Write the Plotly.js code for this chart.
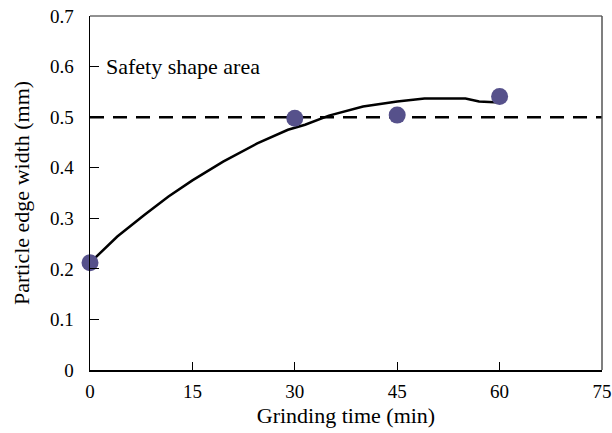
<!DOCTYPE html>
<html>
<head>
<meta charset="utf-8">
<script src="https://cdn.plot.ly/plotly-3.0.1.min.js"></script>
<style>html,body{margin:0;padding:0;background:#fff;}#chart{width:612px;height:433px;}</style>
</head>
<body>
<div id="chart"></div>
<script>
// Measured points
var pointTime = [0, 30, 45, 60];
var pointWidth = [0.212, 0.498, 0.504, 0.541];
// Fitted curve
var curveTime = [0, 4, 8, 11.5, 15, 19.5, 24.5, 29, 31.5, 35, 40, 45, 49, 52, 55, 57, 60];
var curveWidth = [0.212, 0.264, 0.307, 0.343, 0.375, 0.412, 0.448, 0.475, 0.485, 0.503, 0.521, 0.531, 0.537, 0.537, 0.537, 0.531, 0.529];
// Safety threshold line
var thresholdTime = [0, 75];
var thresholdWidth = [0.5, 0.5];
var xTicks = [0, 15, 30, 45, 60, 75];
var yTicks = [0, 0.1, 0.2, 0.3, 0.4, 0.5, 0.6, 0.7];
var yTickText = ['0', '0.1', '0.2', '0.3', '0.4', '0.5', '0.6', '0.7'];
var annotationText = 'Safety shape area';

var tickFont = {family: 'Liberation Serif', size: 19, color: '#000'};
var titleFont = {family: 'Liberation Serif', size: 22, color: '#000'};

var data = [
  {x: thresholdTime, y: thresholdWidth, mode: 'lines', line: {color: '#000', width: 2.5, dash: '14px,9px'}, hoverinfo: 'skip', cliponaxis: false},
  {x: curveTime, y: curveWidth, mode: 'lines', line: {color: '#000', width: 2.5}},
  {x: pointTime, y: pointWidth, mode: 'markers', marker: {color: '#56518b', size: 17}, cliponaxis: false}
];

var layout = {
  width: 612, height: 433,
  margin: {l: 90, r: 10, t: 16, b: 63},
  paper_bgcolor: '#fff', plot_bgcolor: '#fff',
  showlegend: false,
  font: tickFont,
  xaxis: {
    range: [0, 75], tickvals: xTicks, ticks: 'inside', ticklen: 8, tickwidth: 1.2, tickcolor: '#000',
    showgrid: false, zeroline: false, showline: true, linecolor: '#000', linewidth: 1.5,
    ticklabelstandoff: 4,
    title: {text: 'Grinding time (min)', font: titleFont, standoff: 6},
    tickfont: tickFont
  },
  yaxis: {
    range: [0, 0.7], tickvals: yTicks, ticktext: yTickText, ticks: 'inside', ticklen: 9, tickwidth: 1.2, tickcolor: '#000',
    showgrid: false, zeroline: false, showline: true, linecolor: '#000', linewidth: 1.5,
    ticklabelstandoff: 11,
    title: {text: 'Particle edge width (mm)', font: titleFont, standoff: 14},
    tickfont: tickFont
  },
  shapes: [
    {type: 'line', xref: 'paper', yref: 'paper', x0: 0, x1: 1, y0: 1, y1: 1, line: {color: '#222', width: 1}},
    {type: 'line', xref: 'paper', yref: 'paper', x0: 1, x1: 1, y0: 0, y1: 1, line: {color: '#555', width: 1.5}}
  ],
  annotations: [
    {x: 2.0, y: 0.6, xref: 'x', yref: 'y', text: annotationText, showarrow: false, xanchor: 'left', yanchor: 'middle', font: titleFont}
  ]
};

Plotly.newPlot('chart', data, layout, {displayModeBar: false, staticPlot: true});
</script>
</body>
</html>
